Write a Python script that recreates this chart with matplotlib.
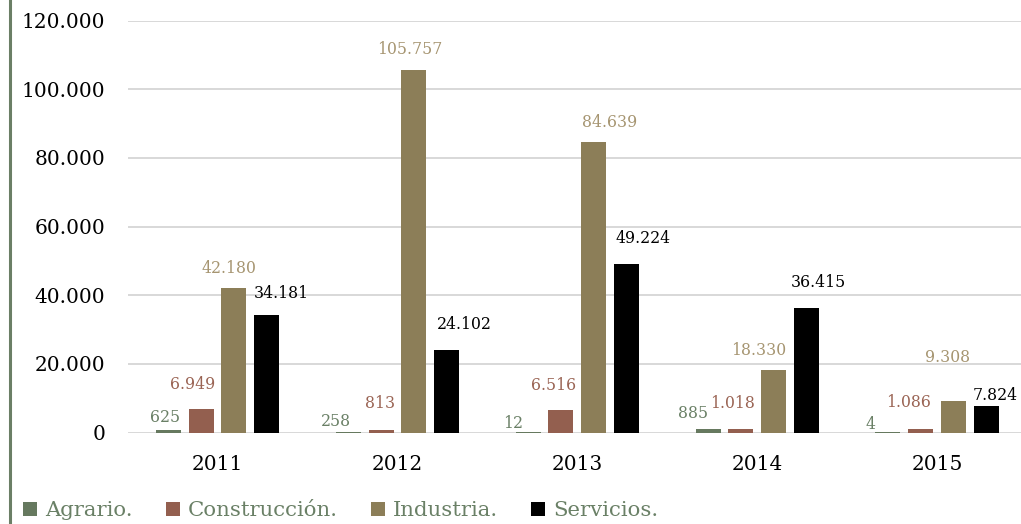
import matplotlib.pyplot as plt
from matplotlib.lines import Line2D
import numpy as np

plt.rcParams['font.family'] = ['DejaVu Serif']

years = ["2011", "2012", "2013", "2014", "2015"]
series = ["Agrario.", "Construcción.", "Industria.", "Servicios."]
agrario = [625, 258, 12, 885, 4]
construccion = [6949, 813, 6516, 1018, 1086]
industria = [42180, 105757, 84639, 18330, 9308]
servicios = [34181, 24102, 49224, 36415, 7824]

bar_colors = ["#66795f", "#935f4f", "#8c7e58", "#000000"]
label_colors = ["#6a8066", "#9a6454", "#a69571", "#000000"]

# label offsets (dx, dy) in pixels from bar top centre
offsets = [
    [(-3, 13), (-12, 10), (-15, 9), (-15, 16), (-17, 8)],
    [(-9, 24), (-1, 26), (-7, 25), (-8, 26), (-12, 26)],
    [(-5, 19), (-4, 20), (16, 20), (-15, 19), (-6, 43)],
    [(15, 22), (18, 25), (17, 25), (12, 25), (9, 10)],
]

def fmt(v):
    return f"{v:,}".replace(",", ".")

fig = plt.figure(figsize=(10.21, 5.24), dpi=100)
ax = fig.add_axes([127.7 / 1021, 1 - 432.5 / 524, (1027 - 127.7) / 1021, (432.5 - 20.7) / 524])

x = np.arange(len(years))
step = 0.182
width = 0.139
data = [agrario, construccion, industria, servicios]

for i, vals in enumerate(data):
    pos = x + (i - 1.5) * step
    ax.bar(pos, vals, width, color=bar_colors[i], label=series[i], zorder=3)
    for j, v in enumerate(vals):
        dx, dy = offsets[i][j]
        ax.annotate(fmt(v), (pos[j], v), xytext=(dx * 0.72, dy * 0.72),
                    textcoords="offset points", ha="center", va="center",
                    fontsize=11.3, color=label_colors[i])

ax.set_xlim(-0.5, 4.5)
ax.set_ylim(0, 120000)
ax.set_yticks(np.arange(0, 120001, 20000))
ax.set_yticklabels([fmt(v) for v in range(0, 120001, 20000)])
ax.set_xticks(x)
ax.set_xticklabels(years)
ax.tick_params(axis="y", length=0, pad=16, labelsize=14.5)
ax.tick_params(axis="x", length=0, pad=16, labelsize=14.5)
for s in ax.spines.values():
    s.set_visible(False)
ax.grid(axis="y", color="#d6d6d6", linewidth=1.3, zorder=0)
ax.set_axisbelow(True)

leg = fig.legend(loc="center left", bbox_to_anchor=(0.0225, 0.025), ncol=4,
                 frameon=False, fontsize=15.3, handlelength=0.66, handleheight=0.66,
                 handletextpad=0.38, columnspacing=1.55, borderpad=0, borderaxespad=0)
for t in leg.get_texts():
    t.set_color("#6a8066")

fig.add_artist(Line2D([9.5 / 1021, 9.5 / 1021], [0, 1], color="#6b7f66",
                      linewidth=2.2, transform=fig.transFigure))

fig.savefig("out.png", dpi=100)
